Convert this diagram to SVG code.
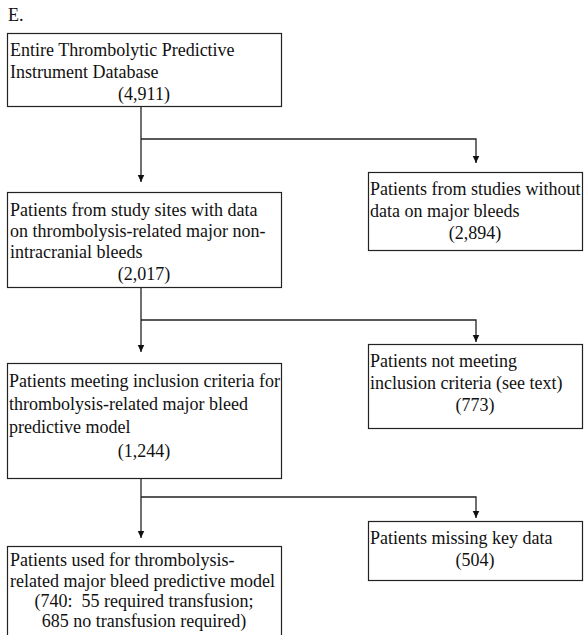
<svg xmlns="http://www.w3.org/2000/svg" width="586" height="635" viewBox="0 0 586 635">
<style>
text{font-family:'Liberation Serif','Times New Roman',serif;font-size:18px;fill:#111;white-space:pre}
.box{fill:#fff;stroke:#222;stroke-width:1.2}
.c{text-anchor:middle}
.ln{fill:none;stroke:#222;stroke-width:1.3}
</style>
<defs>
<marker id="ah" markerWidth="8" markerHeight="9" refX="7.5" refY="4" orient="auto" markerUnits="userSpaceOnUse">
<path d="M0,0.5 L7.5,4 L0,7.5 Z" fill="#111"/>
</marker>
</defs>
<rect width="586" height="635" fill="#fff"/>
<text x="8" y="21">E.</text>
<g id="connectors">
<path class="ln" d="M141,106 V182" marker-end="url(#ah)"/>
<path class="ln" d="M141,139 H476 V163" marker-end="url(#ah)"/>
<path class="ln" d="M141,287 V352" marker-end="url(#ah)"/>
<path class="ln" d="M141,320 H476 V342" marker-end="url(#ah)"/>
<path class="ln" d="M141,478 V538" marker-end="url(#ah)"/>
<path class="ln" d="M141,497 H476 V518" marker-end="url(#ah)"/>
</g>
<g id="n1">
<rect class="box" x="7.5" y="33.5" width="274" height="73"/>
<text x="10" y="56">Entire Thrombolytic Predictive</text>
<text x="10" y="78">Instrument Database</text>
<text class="c" x="144" y="100">(4,911)</text>
</g>
<g id="n2">
<rect class="box" x="368.5" y="172.5" width="214" height="78"/>
<text x="370" y="195">Patients from studies without</text>
<text x="370" y="217">data on major bleeds</text>
<text class="c" x="475" y="239">(2,894)</text>
</g>
<g id="n3">
<rect class="box" x="7.5" y="192.5" width="274" height="95"/>
<text x="10" y="216">Patients from study sites with data</text>
<text x="10" y="237">on thrombolysis-related major non-</text>
<text x="10" y="258">intracranial bleeds</text>
<text class="c" x="144" y="280">(2,017)</text>
</g>
<g id="n4">
<rect class="box" x="368.5" y="344.5" width="214" height="84"/>
<text x="370" y="367">Patients not meeting</text>
<text x="370" y="389">inclusion criteria (see text)</text>
<text class="c" x="475" y="411">(773)</text>
</g>
<g id="n5">
<rect class="box" x="7.5" y="363.5" width="274" height="115"/>
<text x="9" y="387">Patients meeting inclusion criteria for</text>
<text x="9" y="410">thrombolysis-related major bleed</text>
<text x="9" y="433">predictive model</text>
<text class="c" x="144" y="457">(1,244)</text>
</g>
<g id="n6">
<rect class="box" x="368.5" y="521.5" width="214" height="59"/>
<text x="370" y="544">Patients missing key data</text>
<text class="c" x="475" y="566">(504)</text>
</g>
<g id="n7">
<rect class="box" x="7.5" y="546.5" width="274" height="100"/>
<text x="10" y="566">Patients used for thrombolysis-</text>
<text x="10" y="587">related major bleed predictive model</text>
<text class="c" x="144" y="607">(740:  55 required transfusion;</text>
<text class="c" x="144" y="627">685 no transfusion required)</text>
</g>
</svg>
